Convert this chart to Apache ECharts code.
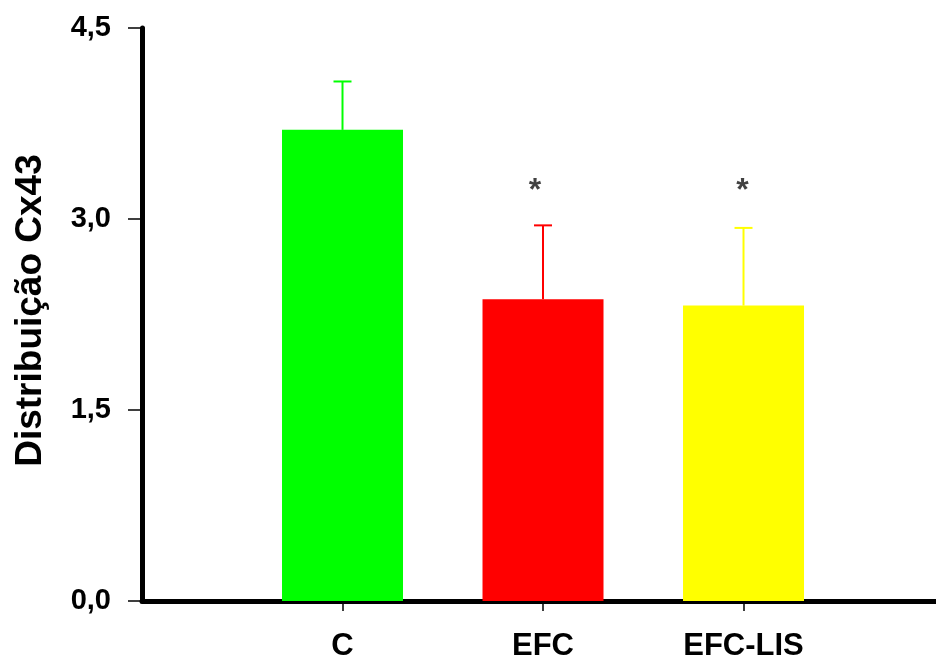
<!DOCTYPE html>
<html>
<head>
<meta charset="utf-8">
<script src="https://cdn.jsdelivr.net/npm/echarts@6/dist/echarts.min.js"></script>
<style>
html,body{margin:0;padding:0;background:#fff;}
#chart{width:936px;height:662px;}
</style>
</head>
<body>
<div id="chart"></div>
<script>
// ---- data ----
var categories = ['C', 'EFC', 'EFC-LIS'];
var means = [3.70, 2.37, 2.32];
var sds = [0.38, 0.58, 0.61];
var sigMarks = [null, 3.22, 3.22];
var barColors = ['#00ff00', '#ff0000', '#ffff00'];
var yTicks = [0, 1.5, 3.0, 4.5];
var yTickLabels = ['0,0', '1,5', '3,0', '4,5'];
var yTitle = 'Distribuição Cx43';

var idx = categories.map(function (c, i) { return i; });

var chart = echarts.init(document.getElementById('chart'), null, { renderer: 'canvas' });
var FONT = '"Liberation Sans", Arial, sans-serif';

var option = {
  animation: false,
  backgroundColor: '#ffffff',
  grid: { left: 142, right: 0, top: 28, bottom: 58, containLabel: false },
  xAxis: {
    type: 'value',
    min: -1, max: 2.96, interval: 1,
    axisLine: { show: true, onZero: false, lineStyle: { color: '#000', width: 5 } },
    axisTick: {
      show: true, inside: false, length: 10,
      lineStyle: { color: '#000', width: 1.5 },
      customValues: idx
    },
    axisLabel: {
      margin: 30, color: '#000', fontFamily: FONT, fontWeight: 'bold', fontSize: 31,
      customValues: idx,
      formatter: function (v) { return categories[Math.round(v)] || ''; }
    },
    splitLine: { show: false }
  },
  yAxis: {
    type: 'value',
    min: 0, max: 4.5, interval: 1.5,
    name: yTitle,
    nameLocation: 'middle',
    nameGap: 93,
    nameTextStyle: { color: '#000', fontFamily: FONT, fontWeight: 'bold', fontSize: 37, padding: [0, 0, 0, 8] },
    axisLine: { show: true, onZero: false, lineStyle: { color: '#000', width: 5 } },
    axisTick: { show: true, inside: false, length: 14, lineStyle: { color: '#000', width: 1.5 } },
    axisLabel: {
      margin: 31, color: '#000', fontFamily: FONT, fontWeight: 'bold', fontSize: 29,
      formatter: function (v) {
        var i = yTicks.indexOf(Math.round(v * 10) / 10);
        return i >= 0 ? yTickLabels[i] : '';
      }
    },
    splitLine: { show: false }
  },
  series: [
    {
      type: 'bar',
      data: means.map(function (m, i) { return [i, m]; }),
      barWidth: 121,
      itemStyle: {
        color: function (p) { return barColors[p.dataIndex]; }
      },
      z: 2
    },
    {
      type: 'custom',
      data: means.map(function (m, i) { return [i, m, m + sds[i]]; }),
      encode: { x: 0, y: [1, 2] },
      renderItem: function (params, api) {
        var k = api.value(0);
        var lo = api.coord([k, api.value(1)]);
        var hi = api.coord([k, api.value(2)]);
        var col = barColors[params.dataIndex];
        var half = 9;
        return {
          type: 'group',
          children: [
            { type: 'line', shape: { x1: lo[0], y1: lo[1], x2: hi[0], y2: hi[1] }, style: { stroke: col, lineWidth: 2 } },
            { type: 'line', shape: { x1: hi[0] - half, y1: hi[1], x2: hi[0] + half, y2: hi[1] }, style: { stroke: col, lineWidth: 2 } }
          ]
        };
      },
      z: 3
    },
    {
      type: 'scatter',
      data: sigMarks.map(function (v, i) {
        if (v == null) return [i, '-'];
        return { value: [i, v], label: { offset: i === 1 ? [-8, 0] : [-1, 0] } };
      }),
      symbolSize: 0,
      label: {
        show: true, position: 'inside', formatter: '*',
        color: '#111', fontFamily: FONT, fontSize: 32, fontWeight: 'bold'
      },
      z: 4
    }
  ]
};
chart.setOption(option);
</script>
</body>
</html>
